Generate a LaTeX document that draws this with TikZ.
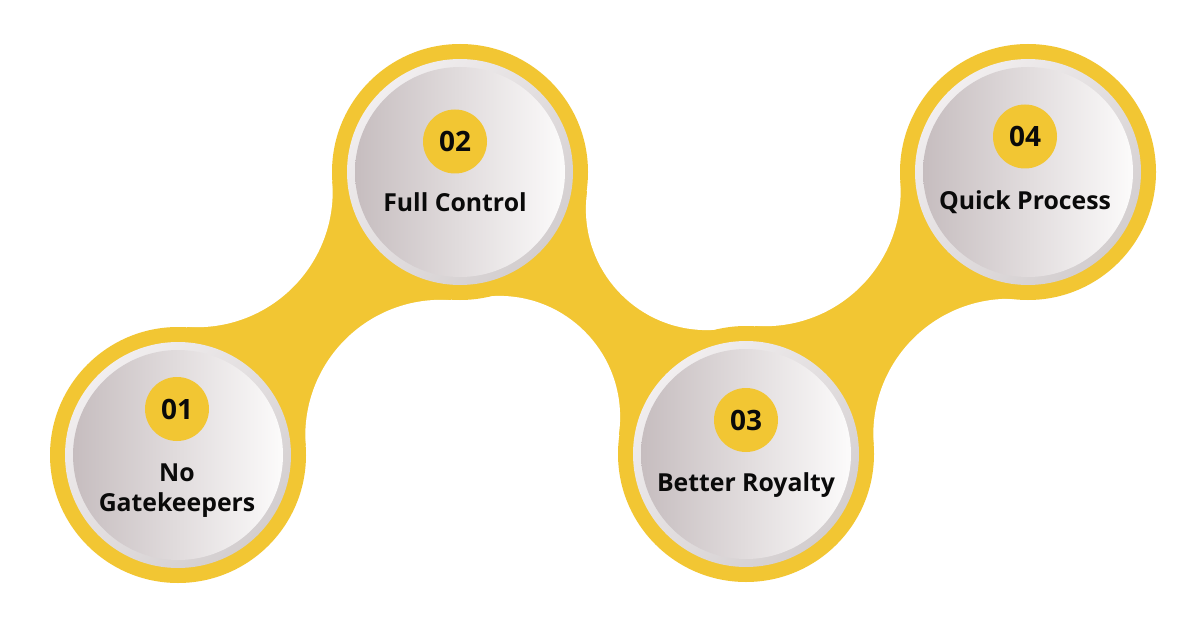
\documentclass[tikz,border=0pt]{standalone}
\usepackage{fontspec}
\setmainfont{Open Sans}
\usetikzlibrary{positioning}

\definecolor{gold}{HTML}{F2C633}
\definecolor{ringlight}{HTML}{F1EEEF}
\definecolor{ringdark}{HTML}{D3CECF}
\definecolor{discleft}{HTML}{C6BDBF}
\definecolor{discright}{HTML}{FCFBFB}
\definecolor{ink}{HTML}{0A0A0A}

\begin{document}
\begin{tikzpicture}[x=0.5pt,y=0.5pt,on grid,
  blob/.style={circle,fill=gold,minimum size=128pt,inner sep=0pt},
  rim/.style={circle,minimum size=113pt,inner sep=0pt,top color=ringlight,bottom color=ringdark,shading angle=45},
  disc/.style={circle,minimum size=105pt,inner sep=0pt,left color=discleft,right color=discright},
  badge/.style={circle,fill=gold,minimum size=32pt,inner sep=0pt,text=ink,font=\fontsize{14}{16}\selectfont\bfseries},
  steplabel/.style={anchor=base,align=center,text=ink,font=\fontsize{12.4}{15}\selectfont\bfseries}]
  \useasboundingbox[fill=white] (0,0) rectangle (1200,628);
  % centres of the four steps and of the white cut-outs
  \coordinate (p1) at (178,173);
  \coordinate (p2) at (460,456);
  \coordinate (p3) at (746,174);
  \coordinate (p4) at (1028,456);
  \coordinate (w1) at (196.7,436.8);
  \coordinate (w2) at (441.3,192.2);
  \coordinate (w3) at (499.1,211.1);
  \coordinate (w4) at (706.9,418.9);
  \coordinate (w5) at (764.7,437.8);
  \coordinate (w6) at (1009.3,193.2);
  % yellow necks
  \foreach \i/\j/\a/\b in {1/2/w1/w2,2/3/w4/w3,3/4/w5/w6}
    \fill[gold] (p\i) -- (\a) -- (p\j) -- (\b) -- cycle;
  \foreach \w/\r in {w1/136,w2/136,w3/121,w4/121,w5/136,w6/136}
    \fill[white] (\w) circle[radius=\r];
  % steps
  \foreach \i/\num/\dx/\nb/\tb/\lab in {1/01/-0.5pt/23pt/28.35pt/{No\\Gatekeepers},
      2/02/-2.5pt/15.25pt/20pt/{Full Control},
      3/03/0pt/17pt/18.85pt/{Better Royalty},
      4/04/-1.5pt/17.75pt/18.75pt/{Quick Process}}{
    \node[blob] (y\i) at (p\i) {};
    \node[rim] (r\i) at (p\i) {};
    \node[disc] (d\i) at (p\i) {};
    \node[badge,above=\nb of d\i,xshift=\dx] (n\i) {\num};
    \node[steplabel,below=\tb of d\i,anchor=base,xshift=\dx] (t\i) {\lab};
  }
\end{tikzpicture}
\end{document}
